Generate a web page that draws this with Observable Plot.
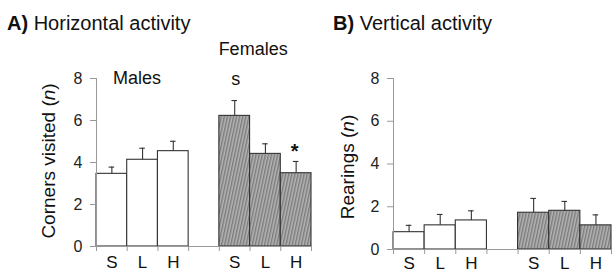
<!DOCTYPE html>
<html>
<head>
<meta charset="utf-8">
<script src="https://cdn.jsdelivr.net/npm/d3@7"></script>
<script src="https://cdn.jsdelivr.net/npm/@observablehq/plot@0.6"></script>
<style>
  html, body { margin: 0; padding: 0; background: #fff; }
  #wrap { position: relative; width: 614px; height: 273px; overflow: hidden; font-family: "Liberation Sans", Arial, sans-serif; }
  #wrap svg { position: absolute; top: 0; background: transparent; max-width: none; }
</style>
</head>
<body>
<div id="wrap"></div>
<script>
// ---- data ----
const groups = ["S", "L", "H"];
const horizMales = [3.46, 4.13, 4.54];
const horizMalesSem = [0.32, 0.55, 0.47];
const horizFemales = [6.22, 4.41, 3.49];
const horizFemalesSem = [0.73, 0.48, 0.56];
const vertMales = [0.81, 1.13, 1.36];
const vertMalesSem = [0.32, 0.51, 0.45];
const vertFemales = [1.72, 1.81, 1.13];
const vertFemalesSem = [0.67, 0.44, 0.49];
const yTicks = [0, 2, 4, 6, 8];
const titles = ["Horizontal activity", "Vertical activity"];
const yLabels = ["Corners visited", "Rearings"];

const FONT = "Liberation Sans, Arial, sans-serif";
const wrap = document.getElementById("wrap");

function buildRows(males, malesSem, females, femalesSem) {
  const rows = [];
  groups.forEach((g, i) => rows.push({group: g, sex: "M", slot: i, v: males[i], sem: malesSem[i]}));
  groups.forEach((g, i) => rows.push({group: g, sex: "F", slot: i + 4, v: females[i], sem: femalesSem[i]}));
  return rows;
}

function addPattern(svg, id) {
  const defs = d3.select(svg).insert("defs", ":first-child");
  const p = defs.append("pattern").attr("id", id)
    .attr("patternUnits", "userSpaceOnUse").attr("width", 3).attr("height", 6)
    .attr("patternTransform", "rotate(12)");
  p.append("rect").attr("width", 3).attr("height", 6).attr("fill", "#b4b4b4");
  p.append("line").attr("x1", 0.8).attr("x2", 0.8).attr("y1", 0).attr("y2", 6)
    .attr("stroke", "#5a5a5a").attr("stroke-width", 0.9);
}

function panel({left, width, marginLeft, marginRight, marginTop, marginBottom, rows, labelDy, patId, extra}) {
  const svg = Plot.plot({
    width, height: 273, marginLeft, marginRight, marginTop, marginBottom,
    style: {fontFamily: FONT, background: "transparent", overflow: "visible"},
    x: {domain: [0, 7], axis: null},
    y: {domain: [0, 8], axis: null},
    marks: [
      Plot.rectY(rows, {
        x1: "slot", x2: d => d.slot + 1, y1: 0, y2: "v",
        fill: d => d.sex === "M" ? "white" : `url(#${patId})`,
        stroke: "#333", strokeWidth: 1.1
      }),
      Plot.ruleX(rows, {x: d => d.slot + 0.5, y1: "v", y2: d => d.v + d.sem, stroke: "#333", strokeWidth: 1.1}),
      Plot.ruleY(rows, {y: d => d.v + d.sem, x1: d => d.slot + 0.5 - 0.09, x2: d => d.slot + 0.5 + 0.09, stroke: "#333", strokeWidth: 1.1}),
      Plot.ruleX([0], {y1: 0, y2: 8, stroke: "#999"}),
      Plot.ruleY([0], {x1: 0, x2: 7, stroke: "#999"}),
      Plot.axisY({ticks: yTicks, tickSize: 6, tickPadding: 8, stroke: "#999", fill: "#222", fontSize: 16, label: null}),
      Plot.axisX({ticks: d3.range(8), tickFormat: () => "", tickSize: 5, stroke: "#999", label: null}),
      Plot.text(rows, {x: d => d.slot + 0.5, y: 0, text: "group", lineAnchor: "top", dy: labelDy, fontSize: 17, fill: "#111"}),
      ...(extra || [])
    ]
  });
  svg.style.left = left + "px";
  addPattern(svg, patId);
  wrap.appendChild(svg);
  return svg;
}

const rowsA = buildRows(horizMales, horizMalesSem, horizFemales, horizFemalesSem);
const rowsB = buildRows(vertMales, vertMalesSem, vertFemales, vertFemalesSem);

const annA = [
  Plot.text(["Males"], {x: 1.32, y: 8, text: d => d, lineAnchor: "middle", fontSize: 18, fill: "#111"}),
  Plot.text(["Females"], {x: 5.1, y: 9.4, text: d => d, lineAnchor: "middle", fontSize: 18, fill: "#111"}),
  Plot.text(["s"], {x: 4.53, y: 7.95, text: d => d, lineAnchor: "middle", fontSize: 18, fill: "#111"}),
  Plot.text(["*"], {x: 6.45, y: 4.5, text: d => d, lineAnchor: "middle", fontSize: 20, fontWeight: "bold", fill: "#111"})
];

panel({left: 0, width: 320, marginLeft: 96, marginRight: 9, marginTop: 78, marginBottom: 27, rows: rowsA, labelDy: 9, patId: "hatchA", extra: annA});
panel({left: 307, width: 307, marginLeft: 86, marginRight: 3, marginTop: 78, marginBottom: 24, rows: rowsB, labelDy: 7, patId: "hatchB"});

// overlay: titles and y labels
const ov = d3.select(wrap).append("svg").attr("width", 614).attr("height", 273)
  .style("left", "0px").style("font-family", FONT).style("pointer-events", "none");
function title(x, letter, txt) {
  const t = ov.append("text").attr("x", x).attr("y", 30).attr("font-size", 20).attr("fill", "#111");
  t.append("tspan").attr("font-weight", "bold").text(letter + ") ");
  t.append("tspan").text(txt);
}
title(7, "A", titles[0]);
title(333, "B", titles[1]);
function ylab(x, y, txt) {
  const t = ov.append("text").attr("transform", `translate(${x},${y}) rotate(-90)`)
    .attr("text-anchor", "middle").attr("font-size", 19).attr("fill", "#111");
  t.append("tspan").text(txt + " (");
  t.append("tspan").attr("font-style", "italic").text("n");
  t.append("tspan").text(")");
}
ylab(55, 161, yLabels[0]);
ylab(354, 167, yLabels[1]);
</script>
</body>
</html>
